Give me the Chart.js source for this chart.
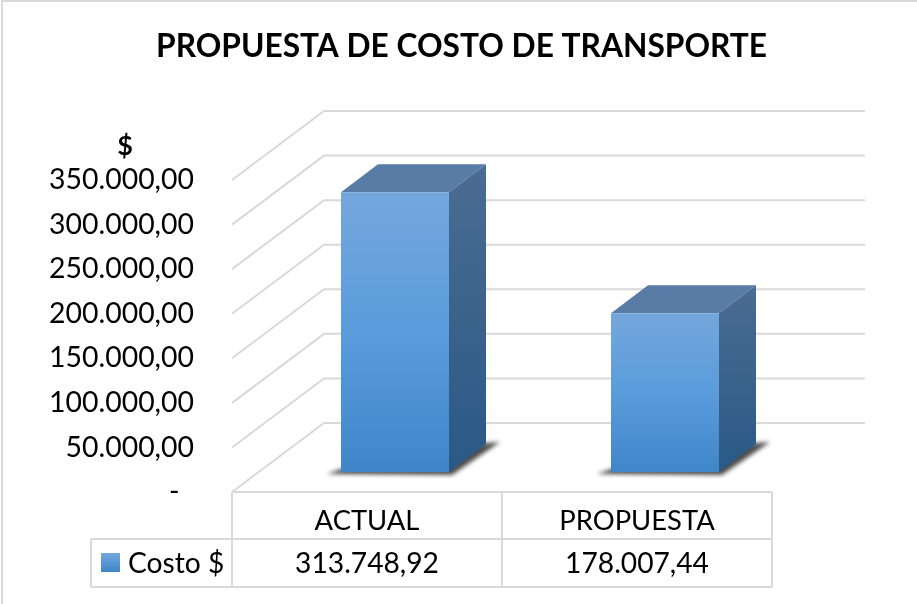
<!DOCTYPE html>
<html>
<head>
<meta charset="utf-8">
<title>Propuesta de costo de transporte</title>
<script src="https://cdn.jsdelivr.net/npm/chart.js@4"></script>
<style>
    html, body { margin: 0; background: #fff; }
    canvas { display: block; }
</style>
</head>
<body>
<canvas id="chart" width="917" height="604"></canvas>
<script>
// ============================================
// DATA
// ============================================

const categories = ['ACTUAL', 'PROPUESTA'];
const costValues = [313748.92, 178007.44];
const costLabels = ['313.748,92', '178.007,44'];
const seriesName = 'Costo $';
const unitLabel = '$';
// bottom to top, same order as the scale builds its ticks
const tickLabels = ['-  ', '50.000,00', '100.000,00', '150.000,00', '200.000,00', '250.000,00', '300.000,00', '350.000,00'];

// ============================================
// 3D LOOK
// ============================================

const fontFamily = 'Lato, "Open Sans", sans-serif';
const gridColor = '#d9d9d9';
const wallDepth = { x: 92, y: -69 };
const barShift = { x: 28, y: -20 };
const barDepth = { x: 37, y: -28 };

function poly(ctx, pts) {
    ctx.beginPath();
    pts.forEach((p, i) => i ? ctx.lineTo(p[0], p[1]) : ctx.moveTo(p[0], p[1]));
    ctx.closePath();
}

function drawWalls(chart) {
    const ctx = chart.ctx;
    const { left, right } = chart.chartArea;
    const yScale = chart.scales.y;
    ctx.save();
    ctx.strokeStyle = gridColor;
    ctx.lineWidth = 2;

    // outer frame of the picture
    ctx.beginPath();
    ctx.moveTo(2, 604); ctx.lineTo(2, 1); ctx.lineTo(917, 1);
    ctx.stroke();

    yScale.ticks.forEach(t => {
        const y = yScale.getPixelForValue(t.value);
        ctx.beginPath();
        ctx.moveTo(left, y);
        ctx.lineTo(left + wallDepth.x, y + wallDepth.y);
        ctx.lineTo(right + wallDepth.x + 1, y + wallDepth.y);
        ctx.stroke();
    });
    ctx.restore();
}

function drawBarSolids(chart) {
    const ctx = chart.ctx;
    chart.getDatasetMeta(0).data.forEach(bar => {
        const l = bar.x - bar.width / 2 + barShift.x;
        const r = bar.x + bar.width / 2 + barShift.x;
        const top = bar.y + barShift.y;
        const bottom = bar.base + barShift.y;
        const dx = barDepth.x, dy = barDepth.y;

        // shadow on the floor
        ctx.save();
        ctx.filter = 'blur(2px)';
        ctx.fillStyle = '#4d4d4d';
        poly(ctx, [[l - 14, bottom + 2], [l, bottom - 3], [r + dx, bottom + dy - 1], [r + dx + 14, bottom + dy - 2], [r + 3, bottom + 3]]);
        ctx.fill();
        ctx.restore();

        // top face
        ctx.fillStyle = '#587ca6';
        poly(ctx, [[l, top], [l + dx, top + dy], [r + dx, top + dy], [r, top]]);
        ctx.fill();

        // side face
        const side = ctx.createLinearGradient(0, top + dy, 0, bottom);
        side.addColorStop(0, '#4b6c92');
        side.addColorStop(1, '#295985');
        ctx.fillStyle = side;
        poly(ctx, [[r, top], [r + dx, top + dy], [r + dx, bottom + dy], [r, bottom]]);
        ctx.fill();
    });
}

function drawTable(chart) {
    const ctx = chart.ctx;
    const { left, right, bottom } = chart.chartArea;
    const mid = (left + right) / 2;
    const row1 = bottom + 47;
    const row2 = bottom + 95;
    const legendLeft = 91;

    ctx.save();
    ctx.strokeStyle = gridColor;
    ctx.lineWidth = 2;
    ctx.beginPath();
    ctx.moveTo(left, bottom); ctx.lineTo(right, bottom);
    ctx.moveTo(legendLeft, row1); ctx.lineTo(right, row1);
    ctx.moveTo(legendLeft, row2); ctx.lineTo(right, row2);
    ctx.moveTo(left, bottom); ctx.lineTo(left, row2);
    ctx.moveTo(mid, bottom); ctx.lineTo(mid, row2);
    ctx.moveTo(right, bottom); ctx.lineTo(right, row2);
    ctx.moveTo(legendLeft, row1); ctx.lineTo(legendLeft, row2);
    ctx.stroke();

    ctx.fillStyle = '#000';
    ctx.font = '28.2px ' + fontFamily;
    ctx.textBaseline = 'middle';
    ctx.textAlign = 'center';
    const xScale = chart.scales.x;
    costLabels.forEach((label, i) => {
        ctx.fillText(label, xScale.getPixelForValue(i), (row1 + row2) / 2 + 1);
    });

    // legend key + name
    const key = ctx.createLinearGradient(0, 553, 0, 572);
    key.addColorStop(0, '#74a7dc');
    key.addColorStop(1, '#3f86c9');
    ctx.fillStyle = key;
    ctx.fillRect(101, 553, 19, 19);
    ctx.fillStyle = '#000';
    ctx.textAlign = 'left';
    ctx.fillText(seriesName, 128, (row1 + row2) / 2 + 1);

    // unit on top of the axis
    ctx.font = 'bold 27px ' + fontFamily;
    ctx.textAlign = 'center';
    ctx.fillText(unitLabel, 125, 146);
    ctx.restore();
}

const solidBars = {
    id: 'solidBars',
    afterLayout(chart) {
        // title is centred on the whole picture, not on the plot
        chart.titleBlock.left = 6;
        chart.titleBlock.right = 917;
    },
    beforeDatasetsDraw(chart) {
        drawWalls(chart);
        drawBarSolids(chart);
        chart.ctx.save();
        chart.ctx.translate(barShift.x, barShift.y);
    },
    afterDatasetsDraw(chart) {
        chart.ctx.restore();
        drawTable(chart);
    }
};

// ============================================
// CHART
// ============================================

new Chart(document.getElementById('chart'), {
    type: 'bar',
    data: {
        labels: categories,
        datasets: [{
            label: seriesName,
            data: costValues,
            categoryPercentage: 0.4,
            barPercentage: 1,
            borderWidth: 0,
            backgroundColor: function(c) {
                const yScale = c.chart.scales.y;
                if (!yScale || c.raw === undefined) return '#5a9bd8';
                const top = yScale.getPixelForValue(c.raw);
                const base = yScale.getPixelForValue(0);
                if (!isFinite(top) || !isFinite(base)) return '#5a9bd8';
                const g = c.chart.ctx.createLinearGradient(0, top, 0, base);
                g.addColorStop(0, '#74a7dc');
                g.addColorStop(0.5, '#5a9cdc');
                g.addColorStop(1, '#3f86c9');
                return g;
            }
        }]
    },
    options: {
        responsive: false,
        animation: false,
        layout: { padding: { left: 6, right: 145, top: 0, bottom: 0 } },
        plugins: {
            legend: { display: false },
            tooltip: { enabled: false },
            title: {
                display: true,
                text: 'PROPUESTA DE COSTO DE TRANSPORTE',
                color: '#000',
                font: { family: fontFamily, size: 31.7, weight: 'bold', lineHeight: 1.2 },
                padding: { top: 28, bottom: 114 }
            }
        },
        scales: {
            x: {
                grid: { display: false },
                border: { display: false },
                afterFit(s) { s.height = 112; },
                ticks: { color: '#000', font: { family: fontFamily, size: 27.4 }, padding: 5, maxRotation: 0 }
            },
            y: {
                min: 0,
                max: 350000,
                grid: { display: false },
                border: { display: false },
                afterFit(s) { s.width = 226; },
                ticks: {
                    stepSize: 50000,
                    color: '#000',
                    padding: 30,
                    font: { family: fontFamily, size: 28.4 },
                    callback: (v, i) => tickLabels[i]
                }
            }
        }
    },
    plugins: [solidBars]
});
</script>
</body>
</html>
